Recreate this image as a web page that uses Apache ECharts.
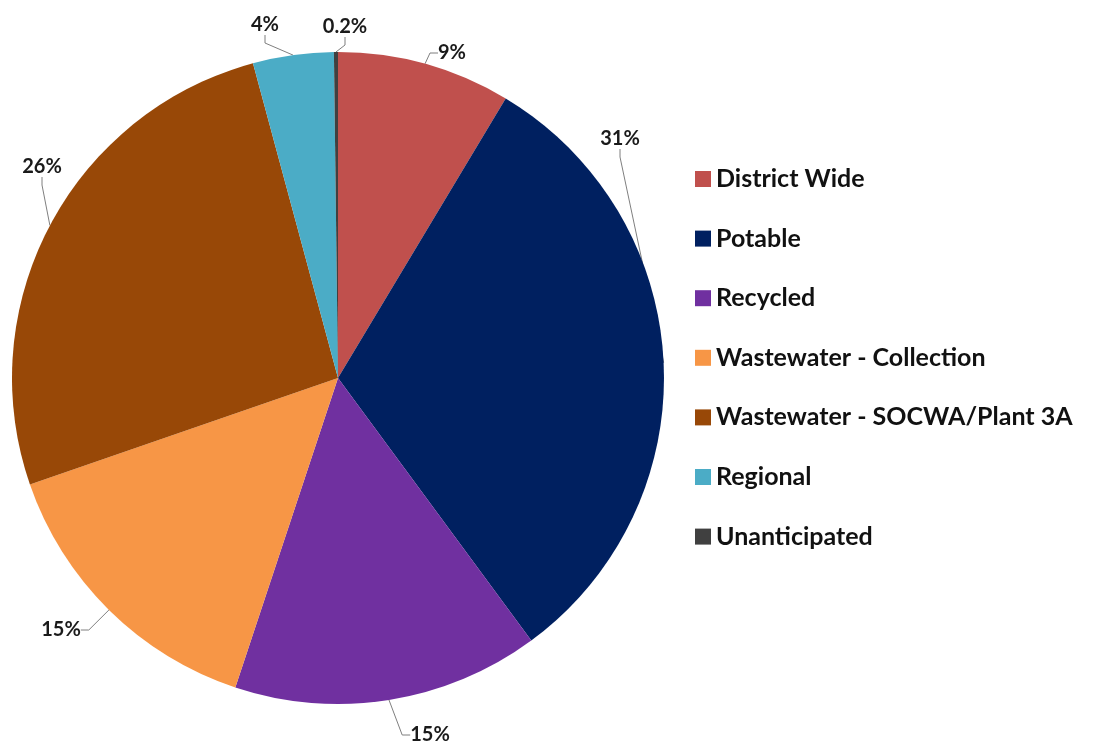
<!DOCTYPE html>
<html>
<head>
<meta charset="utf-8">
<script src="https://cdn.jsdelivr.net/npm/echarts@6/dist/echarts.min.js"></script>
<style>
html,body{margin:0;padding:0;background:#fff;}
#chart{width:1118px;height:747px;}
</style>
</head>
<body>
<div id="chart"></div>
<script>
const categories = ["District Wide", "Potable", "Recycled", "Wastewater - Collection", "Wastewater - SOCWA/Plant 3A", "Regional", "Unanticipated"];
const values = [8.6, 31.3, 15.2, 14.6, 26.1, 4.0, 0.2];
const labelTexts = ["9%", "31%", "15%", "15%", "26%", "4%", "0.2%"];
const colors = ["#C0504D", "#002060", "#7030A0", "#F79646", "#984807", "#4BACC6", "#404040"];

// label placement (centre of each percentage label on the page), styling only
const labelSpots = [[452, 53], [620, 139], [430, 735], [61, 630], [42, 167], [265, 25], [345, 27]];

const chart = echarts.init(document.getElementById('chart'), null, {renderer: 'canvas'});
const data = categories.map((c, i) => ({name: c, value: values[i], itemStyle: {color: colors[i]}}));

chart.setOption({
  animation: false,
  backgroundColor: '#ffffff',
  legend: {
    orient: 'vertical',
    left: 690,
    top: 159,
    itemWidth: 16,
    itemHeight: 16,
    itemGap: 29.6,
    icon: 'rect',
    textStyle: {fontFamily: 'Lato', fontWeight: 'bold', fontSize: 25, color: '#111', lineHeight: 30},
    data: categories
  },
  series: [{
    type: 'pie',
    center: [338, 378],
    radius: 326,
    startAngle: 90,
    clockwise: true,
    avoidLabelOverlap: false,
    data: data,
    label: {
      show: true,
      position: 'outside',
      overflow: 'none',
      formatter: p => labelTexts[p.dataIndex],
      fontFamily: 'Lato',
      fontWeight: 'bold',
      fontSize: 20,
      color: '#1a1a1a'
    },
    labelLine: {
      show: true,
      length: 8,
      length2: 8,
      lineStyle: {color: '#7f7f7f', width: 1}
    },
    labelLayout: p => ({
      x: labelSpots[p.dataIndex][0],
      y: labelSpots[p.dataIndex][1],
      align: 'center',
      verticalAlign: 'middle'
    }),
    emphasis: {disabled: true}
  }]
});
</script>
</body>
</html>
